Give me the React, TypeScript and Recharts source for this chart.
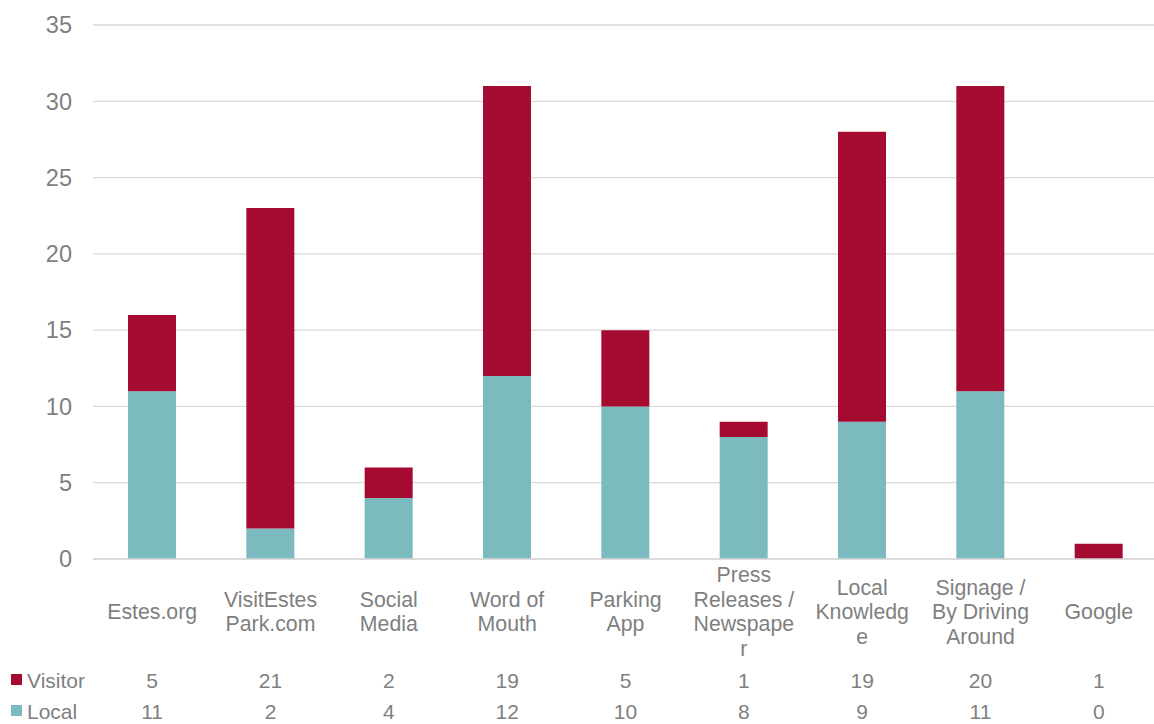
import React from "react";
import { BarChart, Bar, XAxis, YAxis, CartesianGrid } from "recharts";

const categories = [
  "Estes.org",
  "VisitEstesPark.com",
  "Social Media",
  "Word of Mouth",
  "Parking App",
  "Press Releases / Newspaper",
  "Local Knowledge",
  "Signage / By Driving Around",
  "Google",
];
const categoryLines = [
  ["Estes.org"],
  ["VisitEstes", "Park.com"],
  ["Social", "Media"],
  ["Word of", "Mouth"],
  ["Parking", "App"],
  ["Press", "Releases /", "Newspape", "r"],
  ["Local", "Knowledg", "e"],
  ["Signage /", "By Driving", "Around"],
  ["Google"],
];
const localValues = [11, 2, 4, 12, 10, 8, 9, 11, 0];
const visitorValues = [5, 21, 2, 19, 5, 1, 19, 20, 1];
const yTicks = [0, 5, 10, 15, 20, 25, 30, 35];

const LOCAL_COLOR = "#7BBBC0";
const VISITOR_COLOR = "#A50B31";
const TEXT_COLOR = "#7F7F7F";
const FONT = "'Liberation Sans', Arial, sans-serif";

const data = categories.map((c, i) => ({
  name: c,
  Local: localValues[i],
  Visitor: visitorValues[i],
}));

const tableRows = [
  { name: "Visitor", color: VISITOR_COLOR, values: visitorValues, dy: 121 },
  { name: "Local", color: LOCAL_COLOR, values: localValues, dy: 152 },
];

const CategoryTick = (props: any) => {
  const { x, index } = props;
  const base = 559;
  const lines = categoryLines[index] || [];
  const lh = 24.5;
  const center = base + 53;
  const start = center - ((lines.length - 1) * lh) / 2;
  return (
    <g>
      {lines.map((l, i) => (
        <text
          key={i}
          x={x}
          y={start + i * lh}
          textAnchor="middle"
          dominantBaseline="central"
          fontSize={21.3}
          fill={TEXT_COLOR}
          fontFamily={FONT}
        >
          {l}
        </text>
      ))}
      {tableRows.map((r) => (
        <text
          key={r.name}
          x={x}
          y={base + r.dy}
          textAnchor="middle"
          dominantBaseline="central"
          fontSize={21}
          fill={TEXT_COLOR}
          fontFamily={FONT}
        >
          {r.values[index]}
        </text>
      ))}
      {index === 0 &&
        tableRows.map((r) => (
          <g key={"lg" + r.name}>
            <rect x={11} y={base + r.dy - 6} width={11} height={11} fill={r.color} />
            <text
              x={27}
              y={base + r.dy}
              textAnchor="start"
              dominantBaseline="central"
              fontSize={21}
              fill={TEXT_COLOR}
              fontFamily={FONT}
            >
              {r.name}
            </text>
          </g>
        ))}
    </g>
  );
};

export default function App() {
  return (
    <div style={{ position: "absolute", left: 0, top: 0, width: 1154, height: 724, overflow: "hidden", background: "#fff" }}>
      <BarChart
        width={1158}
        height={724}
        data={data}
        margin={{ top: 25, right: 0, bottom: 0, left: 0 }}
        barSize={48}
      >
        <CartesianGrid vertical={false} stroke="#D9D9D9" strokeWidth={1.3} />
        <XAxis
          dataKey="name"
          height={165}
          axisLine={{ stroke: "#D9D9D9", strokeWidth: 1.3 }}
          tickLine={false}
          interval={0}
          tick={<CategoryTick />}
        />
        <YAxis
          width={93}
          domain={[0, 35]}
          ticks={yTicks}
          axisLine={false}
          tickLine={false}
          tickSize={6}
          tickMargin={15}
          interval={0}
          tick={{ fill: TEXT_COLOR, fontSize: 23.5, fontFamily: FONT }}
        />
        <Bar dataKey="Local" stackId="a" fill={LOCAL_COLOR} isAnimationActive={false} />
        <Bar dataKey="Visitor" stackId="a" fill={VISITOR_COLOR} isAnimationActive={false} />
      </BarChart>
    </div>
  );
}
